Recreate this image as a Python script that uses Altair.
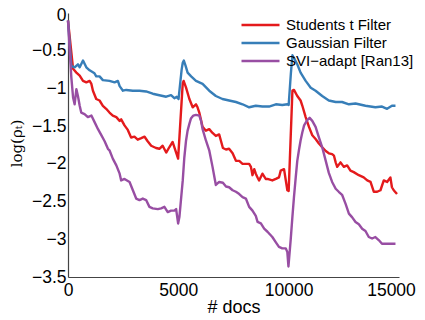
import altair as alt
import pandas as pd

series_names = ["Students t Filter", "Gaussian Filter", "SVI\u2212adapt [Ran13]"]
series_colors = ["#e41a1c", "#377eb8", "#984ea3"]

student_x = [0, 230, 380, 530, 680, 830, 980, 1060, 1130, 1280, 1430, 1580, 1730, 1880, 2030, 2190, 2340, 2410,
             2560, 2710, 2860, 3010, 3160, 3320, 3470, 3610, 3770, 3990, 4140, 4290, 4450, 4590, 4740, 4900, 4990,
             5200, 5240, 5350, 5500, 5650, 5800, 5870, 5950, 6100, 6250, 6400, 6550, 6700, 6850, 7020, 7160, 7300,
             7460, 7610, 7760, 7910, 8060, 8210, 8290, 8360, 8440, 8510, 8590, 8660, 8810, 8960, 9040, 9260, 9420,
             9560, 9640, 9790, 9940, 10000, 10170, 10240, 10390, 10540, 10620, 10770, 10920, 11070, 11220, 11370,
             11520, 11680, 11820, 11970, 12050, 12130, 12200, 12350, 12500, 12650, 12800, 12950, 13180, 13400, 13560,
             13710, 13860, 14010, 14160, 14310, 14460, 14610, 14680, 14760, 14910]
student_y = [-0.10, -0.74, -0.79, -0.83, -0.90, -0.92, -0.90, -0.94, -1.03, -1.14, -1.16, -1.23, -1.27, -1.32, -1.36,
             -1.38, -1.43, -1.41, -1.49, -1.55, -1.65, -1.64, -1.68, -1.66, -1.64, -1.70, -1.76, -1.79, -1.80, -1.76,
             -1.85, -1.78, -1.71, -1.85, -1.93, -0.93, -0.90, -0.99, -1.14, -1.25, -1.21, -1.25, -1.32, -1.51, -1.56,
             -1.54, -1.59, -1.63, -1.61, -1.79, -1.81, -1.80, -1.86, -1.96, -1.96, -2.00, -2.00, -2.00, -2.04, -2.15,
             -2.07, -2.13, -2.18, -2.22, -2.13, -2.20, -2.20, -2.22, -2.20, -2.18, -2.09, -2.07, -2.35, -2.36, -1.03,
             -1.02, -1.10, -1.16, -1.23, -1.38, -1.51, -1.62, -1.67, -1.73, -1.78, -1.83, -1.86, -1.87, -1.89, -1.98,
             -2.04, -1.98, -2.04, -2.02, -2.09, -2.11, -2.15, -2.18, -2.22, -2.24, -2.37, -2.37, -2.35, -2.22, -2.24,
             -2.18, -2.31, -2.35, -2.40]

gauss_x = [0, 150, 300, 450, 530, 680, 830, 980, 1200, 1280, 1430, 1580, 1880, 2110, 2260, 2340, 2490, 2640, 2940,
           3240, 3540, 3840, 4140, 4450, 4670, 4820, 4930, 5010, 5150, 5200, 5250, 5330, 5420, 5580, 5800, 6100,
           6400, 6700, 7000, 7300, 7610, 7910, 8210, 8510, 8810, 9110, 9420, 9710, 9940, 10000, 10100, 10170,
           10250, 10390, 10540, 10770, 11000, 11220, 11520, 11820, 12130, 12420, 12730, 13030, 13480, 13930, 14230,
           14460, 14680, 14840]
gauss_y = [-0.10, -0.70, -0.72, -0.68, -0.72, -0.63, -0.72, -0.76, -0.80, -0.84, -0.84, -0.89, -0.90, -0.92, -0.90,
           -0.97, -1.03, -1.02, -1.03, -1.03, -1.04, -1.07, -1.09, -1.11, -1.09, -1.13, -1.11, -1.14, -0.75, -0.66,
           -0.63, -0.70, -0.79, -0.84, -0.90, -0.94, -1.03, -1.10, -1.14, -1.16, -1.18, -1.21, -1.25, -1.23, -1.24,
           -1.24, -1.21, -1.22, -1.21, -1.22, -0.80, -0.56, -0.60, -0.68, -0.79, -0.90, -0.99, -1.03, -1.10, -1.16,
           -1.18, -1.18, -1.21, -1.20, -1.23, -1.25, -1.24, -1.27, -1.23, -1.23]

svi_x = [0, 150, 230, 300, 380, 450, 530, 600, 750, 900, 1060, 1210, 1360, 1510, 1660, 1810, 1880, 2030, 2190, 2340,
         2410, 2560, 2790, 2940, 3090, 3240, 3390, 3540, 3690, 3840, 4070, 4220, 4370, 4520, 4670, 4820, 4900, 4990,
         5050, 5200, 5270, 5350, 5420, 5500, 5570, 5680, 5800, 5950, 6030, 6100, 6250, 6400, 6550, 6700, 6850, 7020,
         7160, 7300, 7460, 7610, 7760, 7910, 8060, 8210, 8360, 8510, 8590, 8740, 8890, 9040, 9260, 9420, 9560, 9710,
         9870, 9940, 9990, 10090, 10170, 10240, 10320, 10390, 10470, 10540, 10620, 10700, 10840, 10950, 11070, 11220,
         11370, 11520, 11680, 11820, 11970, 12130, 12270, 12420, 12580, 12730, 12880, 13030, 13180, 13330, 13480,
         13630, 13780, 13930, 14080, 14230, 14390, 14610, 14840]
svi_y = [-0.10, -0.85, -1.12, -1.21, -1.01, -1.10, -1.23, -1.32, -1.34, -1.38, -1.36, -1.45, -1.54, -1.62, -1.70,
         -1.80, -1.82, -1.93, -2.02, -2.13, -2.22, -2.20, -2.24, -2.35, -2.46, -2.48, -2.46, -2.48, -2.57, -2.59,
         -2.60, -2.59, -2.57, -2.64, -2.62, -2.62, -2.60, -2.79, -2.70, -2.22, -1.92, -1.69, -1.56, -1.47, -1.40,
         -1.36, -1.35, -1.36, -1.43, -1.54, -1.69, -1.82, -2.04, -2.28, -2.24, -2.25, -2.30, -2.31, -2.35, -2.37,
         -2.40, -2.44, -2.46, -2.57, -2.62, -2.69, -2.77, -2.79, -2.86, -2.90, -2.97, -3.04, -3.10, -3.12, -3.12,
         -3.17, -3.36, -3.01, -2.70, -2.44, -2.18, -1.96, -1.81, -1.69, -1.58, -1.49, -1.42, -1.39, -1.43, -1.51,
         -1.65, -1.78, -1.96, -2.12, -2.24, -2.33, -2.37, -2.41, -2.53, -2.66, -2.71, -2.77, -2.80, -2.86, -2.89,
         -2.97, -2.99, -2.97, -3.01, -3.06, -3.06, -3.06, -3.06]

x_ticks = [0, 5000, 10000, 15000]
y_ticks = [0, -0.5, -1, -1.5, -2, -2.5, -3, -3.5]

frames = []
for i, (name, xs, ys) in enumerate([(series_names[0], student_x, student_y),
                                     (series_names[1], gauss_x, gauss_y),
                                     (series_names[2], svi_x, svi_y)]):
    frames.append(pd.DataFrame({"docs": xs, "val": ys, "series": name, "ord": i}))
df = pd.concat(frames, ignore_index=True)

chart = alt.Chart(df).mark_line(strokeWidth=2.4, strokeJoin="round").encode(
    x=alt.X("docs:Q", scale=alt.Scale(domain=[0, 15000], nice=False, zero=False),
            axis=alt.Axis(values=x_ticks, format="d", title="# docs", grid=False, ticks=False,
                          labelFontSize=17.5, labelFont="Liberation Sans", labelColor="#000",
                          labelPadding=4, labelFlush=False, domainColor="#444", domainWidth=1.2,
                          labelOffset=alt.condition("datum.value == 15000", alt.value(-8), alt.value(0)),
                          titleFont="Liberation Sans", titleFontSize=18, titleFontWeight="normal",
                          titleColor="#000", titleBaseline="top", titleY=21)),
    y=alt.Y("val:Q", scale=alt.Scale(domain=[-3.5, 0], nice=False, zero=False),
            axis=alt.Axis(values=y_ticks, format="~g", title="log(\u03c1\u209c)", grid=False, ticks=False,
                          labelFontSize=17.5, labelFont="Liberation Sans", labelColor="#000",
                          labelPadding=2, labelFlush=False, domainColor="#444", domainWidth=1.2,
                          labelOffset=alt.condition("datum.value == 0", alt.value(2), alt.value(0)),
                          titleFont="DejaVu Serif", titleFontSize=15, titleFontWeight="normal",
                          titleColor="#000", titleAngle=270, titleX=-47, titleY=130,
                          titleAlign="center", titleBaseline="alphabetic")),
    color=alt.Color("series:N", scale=alt.Scale(domain=series_names, range=series_colors),
                    legend=alt.Legend(title=None, orient="none", legendX=172, legendY=3,
                                      symbolType="stroke", symbolSize=1444, symbolStrokeWidth=2.5,
                                      clipHeight=18, rowPadding=0, padding=0, labelOffset=5,
                                      labelFont="Liberation Sans", labelFontSize=15,
                                      labelColor="#000", labelLimit=300)),
    order=alt.Order("docs:Q"),
    detail="ord:N",
).properties(
    width=331, height=264,
    autosize=alt.AutoSizeParams(type="none"),
    padding={"left": 60, "top": 5, "right": 17, "bottom": 43},
).configure_view(stroke=None)

chart.save("out.html", embed_options={"renderer": "svg", "actions": False})
